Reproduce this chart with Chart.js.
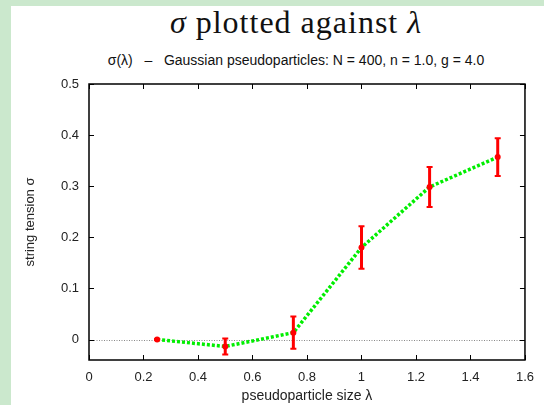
<!DOCTYPE html>
<html>
<head>
<meta charset="utf-8">
<script src="https://cdn.jsdelivr.net/npm/chart.js@4"></script>
<style>
  html, body { margin: 0; padding: 0; background: #ffffff; }
  #wrap { position: relative; width: 544px; height: 405px; overflow: hidden; background: #ffffff; }
  #stripL { position: absolute; left: 0; top: 0; width: 11px; height: 405px; background: #cbe8cd; }
  #stripT { position: absolute; left: 0; top: 0; width: 544px; height: 6px; background: #cbe8cd; }
  #title { position: absolute; left: 0; top: 5px; width: 592px; text-align: center; letter-spacing: 1px;
           font-family: 'Liberation Serif', 'DejaVu Serif', serif; font-size: 32px; line-height: 34px; color: #111; }
  #sub { position: absolute; left: 0; top: 52px; width: 592px; text-align: center;
         font-family: 'Liberation Sans', Arial, sans-serif; font-size: 14px; line-height: 17px; color: #111; white-space: pre; }
  canvas { position: absolute; left: 0; top: 0; }
</style>
</head>
<body>
<div id="wrap">
  <div id="stripL"></div>
  <div id="stripT"></div>
  <div id="title"><i>σ</i> plotted against <i>λ</i></div>
  <div id="sub">σ(λ)   –   Gaussian pseudoparticles: N = 400, n = 1.0, g = 4.0</div>
  <canvas id="c" width="544" height="405"></canvas>
</div>
<script>
// ---- data ----
const lambdaValues = [0.25, 0.5, 0.75, 1.0, 1.25, 1.5];
const sigmaValues  = [0.0, -0.0135, 0.0135, 0.180, 0.2985, 0.357];
const sigmaErrors  = [0.001, 0.0155, 0.0317, 0.0415, 0.039, 0.037];
const xTicks = [0, 0.2, 0.4, 0.6, 0.8, 1, 1.2, 1.4, 1.6];
const yTicks = [0, 0.1, 0.2, 0.3, 0.4, 0.5];
const xAxisTitle = 'pseudoparticle size λ';
const yAxisTitle = 'string tension σ';

const points = lambdaValues.map((x, i) => ({ x: x, y: sigmaValues[i] }));

const framePlugin = {
  id: 'frame',
  beforeDatasetsDraw(chart) {
    const { ctx, chartArea: a, scales: { x, y } } = chart;
    ctx.save();
    const y0 = Math.round(y.getPixelForValue(0)) + 0.5;
    ctx.strokeStyle = '#888';
    ctx.lineWidth = 1;
    ctx.setLineDash([1, 1.5]);
    ctx.beginPath();
    ctx.moveTo(a.left, y0);
    ctx.lineTo(a.right, y0);
    ctx.stroke();
    ctx.restore();
  },
  afterDatasetsDraw(chart) {
    const { ctx, chartArea: a, scales: { x, y } } = chart;
    ctx.save();
    ctx.strokeStyle = '#ff0000';
    lambdaValues.forEach((lx, i) => {
      const px = x.getPixelForValue(lx);
      const top = y.getPixelForValue(sigmaValues[i] + sigmaErrors[i]);
      const bot = y.getPixelForValue(sigmaValues[i] - sigmaErrors[i]);
      ctx.lineWidth = 3;
      ctx.beginPath();
      ctx.moveTo(px, top);
      ctx.lineTo(px, bot);
      ctx.stroke();
      ctx.lineWidth = 2;
      ctx.beginPath();
      ctx.moveTo(px - 3, top); ctx.lineTo(px + 3, top);
      ctx.moveTo(px - 3, bot); ctx.lineTo(px + 3, bot);
      ctx.stroke();
    });
    ctx.strokeStyle = '#000';
    ctx.lineWidth = 1.5;
    ctx.setLineDash([]);
    ctx.strokeRect(a.left, a.top, a.right - a.left, a.bottom - a.top);
    ctx.lineWidth = 1;
    ctx.beginPath();
    xTicks.forEach(v => {
      const px = Math.round(x.getPixelForValue(v)) + 0.5;
      ctx.moveTo(px, a.bottom); ctx.lineTo(px, a.bottom - 5);
      ctx.moveTo(px, a.top); ctx.lineTo(px, a.top + 5);
    });
    yTicks.forEach(v => {
      const py = Math.round(y.getPixelForValue(v)) + 0.5;
      ctx.moveTo(a.left, py); ctx.lineTo(a.left + 5, py);
      ctx.moveTo(a.right, py); ctx.lineTo(a.right - 5, py);
    });
    ctx.stroke();
    ctx.restore();
  }
};

const tickFont = { family: "'Liberation Sans', Arial, sans-serif", size: 13 };
const titleFont = { family: "'Liberation Sans', Arial, sans-serif", size: 14 };

new Chart(document.getElementById('c'), {
  type: 'scatter',
  data: {
    datasets: [{
      data: points,
      showLine: true,
      borderColor: 'rgb(0,238,0)',
      borderWidth: 3.5,
      borderDash: [3, 2],
      borderCapStyle: 'butt',
      tension: 0,
      pointRadius: 3,
      pointBackgroundColor: '#ff0000',
      pointBorderWidth: 0,
      pointHoverRadius: 3
    }]
  },
  options: {
    responsive: false,
    animation: false,
    events: [],
    layout: { padding: { top: 84, right: 14, bottom: 0, left: 0 } },
    plugins: { legend: { display: false }, tooltip: { enabled: false }, title: { display: false } },
    scales: {
      x: {
        type: 'linear', min: 0, max: 1.6,
        afterBuildTicks: s => { s.ticks = xTicks.map(v => ({ value: v })); },
        afterFit: s => { s.height = 45; },
        grid: { display: false, drawTicks: false },
        border: { display: false },
        ticks: { font: tickFont, color: '#222', padding: 10, maxRotation: 0, callback: v => String(v) },
        title: { display: true, text: xAxisTitle, font: titleFont, color: '#222', padding: { top: 0, bottom: 0 } }
      },
      y: {
        type: 'linear', min: -0.04, max: 0.5,
        afterBuildTicks: s => { s.ticks = yTicks.map(v => ({ value: v })); },
        afterFit: s => { s.width = 89; },
        grid: { display: false, drawTicks: false },
        border: { display: false },
        ticks: { font: tickFont, color: '#222', padding: 10, callback: v => String(v) },
        title: { display: true, text: yAxisTitle, font: tickFont, color: '#222', padding: { top: 23, bottom: 0 } }
      }
    }
  },
  plugins: [framePlugin]
});
</script>
</body>
</html>
